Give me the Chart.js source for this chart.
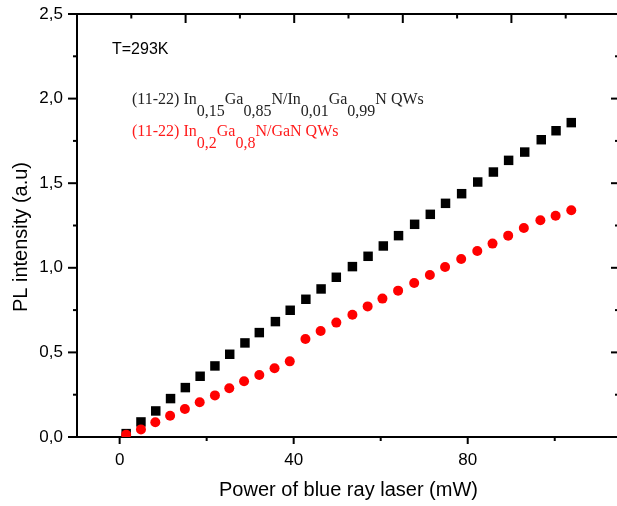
<!DOCTYPE html>
<html>
<head>
<meta charset="utf-8">
<script src="https://cdn.jsdelivr.net/npm/chart.js@4"></script>
<style>
  html, body { margin: 0; padding: 0; background: #fff; overflow: hidden; width: 617px; height: 506px; }
  #wrap { position: absolute; left: 0; top: 0; width: 621px; height: 506px; }
</style>
</head>
<body>
<div id="wrap"><canvas id="c" width="621" height="506"></canvas></div>
<script>
// ---- data ----
const powerBlack = [1.5, 4.9, 8.3, 11.7, 15.1, 18.5, 21.9, 25.3, 28.8, 32.1, 35.8, 39.2, 42.8, 46.3, 49.8, 53.5, 57.1, 60.6, 64.1, 67.8, 71.4, 74.9, 78.6, 82.3, 85.9, 89.4, 93.1, 96.9, 100.3, 103.8];
const intensityBlack = [0.02, 0.089, 0.154, 0.227, 0.292, 0.359, 0.42, 0.489, 0.556, 0.617, 0.682, 0.749, 0.814, 0.875, 0.944, 1.007, 1.068, 1.129, 1.19, 1.257, 1.316, 1.381, 1.438, 1.507, 1.566, 1.635, 1.684, 1.757, 1.81, 1.858];
const powerRed = [1.5, 4.9, 8.2, 11.6, 15.0, 18.4, 21.9, 25.2, 28.6, 32.1, 35.6, 39.1, 42.7, 46.2, 49.8, 53.5, 57.0, 60.4, 64.0, 67.7, 71.3, 74.8, 78.5, 82.2, 85.7, 89.3, 92.9, 96.7, 100.2, 103.8];
const intensityRed = [0.014, 0.045, 0.087, 0.126, 0.165, 0.205, 0.246, 0.288, 0.329, 0.366, 0.406, 0.447, 0.579, 0.626, 0.676, 0.723, 0.772, 0.818, 0.865, 0.910, 0.957, 1.005, 1.052, 1.099, 1.143, 1.190, 1.235, 1.281, 1.308, 1.340];

// ---- tick values ----
const xLabelTicks = [0, 40, 80];
const xMinorTicks = [20, 60, 100];
const yLabelTicks = [0, 0.5, 1.0, 1.5, 2.0, 2.5];
const yMinorTicks = [0.25, 0.75, 1.25, 1.75, 2.25];
const topMajorTicks = [1, 2, 3, 4];
const topMinorTicks = [0.5, 1.5, 2.5, 3.5, 4.5];

// ---- texts ----
const xTitle = 'Power of blue ray laser (mW)';
const yTitle = 'PL intensity (a.u)';
const tempLabel = 'T=293K';
const legendBlack = [['(11-22) In', 0], ['0,15', 1], ['Ga', 0], ['0,85', 1], ['N/In', 0], ['0,01', 1], ['Ga', 0], ['0,99', 1], ['N QWs', 0]];
const legendRed = [['(11-22) In', 0], ['0,2', 1], ['Ga', 0], ['0,8', 1], ['N/GaN QWs', 0]];

const toXY = (xs, ys) => xs.map((x, i) => ({ x: x, y: ys[i] }));

const SANS = '"Liberation Sans", Arial, sans-serif';
const SERIF = '"Liberation Serif", "Times New Roman", serif';

const noPad = sc => { sc.paddingLeft = 0; sc.paddingRight = 0; sc.paddingTop = 0; sc.paddingBottom = 0; };

const decorPlugin = {
  id: 'decor',
  afterDraw(chart) {
    const ctx = chart.ctx;
    const s = chart.scales;
    const ca = chart.chartArea;
    ctx.save();
    ctx.strokeStyle = '#000';
    ctx.lineWidth = 2;
    const line = (x1, y1, x2, y2) => { ctx.beginPath(); ctx.moveTo(x1, y1); ctx.lineTo(x2, y2); ctx.stroke(); };
    // bottom ticks (outward)
    xLabelTicks.forEach(v => { const p = s.x.getPixelForValue(v); line(p, ca.bottom, p, ca.bottom + 7); });
    xMinorTicks.forEach(v => { const p = s.x.getPixelForValue(v); line(p, ca.bottom, p, ca.bottom + 4); });
    // left ticks (outward)
    yLabelTicks.forEach(v => { const p = s.y.getPixelForValue(v); line(ca.left, p, ca.left - 9, p); });
    yMinorTicks.forEach(v => { const p = s.y.getPixelForValue(v); line(ca.left, p, ca.left - 4, p); });
    // top ticks (inward)
    topMajorTicks.forEach(v => { const p = s.xTop.getPixelForValue(v); line(p, ca.top, p, ca.top + 9); });
    topMinorTicks.forEach(v => { const p = s.xTop.getPixelForValue(v); line(p, ca.top, p, ca.top + 4.5); });
    // right ticks (inward)
    yLabelTicks.forEach(v => { const p = s.yRight.getPixelForValue(v); line(ca.right, p, ca.right - 9, p); });
    yMinorTicks.forEach(v => { const p = s.yRight.getPixelForValue(v); line(ca.right, p, ca.right - 5, p); });

    // y title
    ctx.save();
    ctx.translate(26.5, 237);
    ctx.rotate(-Math.PI / 2);
    ctx.font = '20px ' + SANS;
    ctx.fillStyle = '#000';
    ctx.textAlign = 'center';
    ctx.textBaseline = 'alphabetic';
    ctx.fillText(yTitle, 0, 0);
    ctx.restore();

    // temperature label
    ctx.font = '16px ' + SANS;
    ctx.fillStyle = '#000';
    ctx.textAlign = 'left';
    ctx.textBaseline = 'alphabetic';
    ctx.fillText(tempLabel, 112, 54);

    // legend texts with subscripts
    const drawRich = (segs, x, y, color) => {
      ctx.fillStyle = color;
      segs.forEach(([t, sub]) => {
        ctx.font = '16px ' + SERIF;
        ctx.fillText(t, x, sub ? y + 12 : y);
        x += ctx.measureText(t).width;
      });
    };
    drawRich(legendBlack, 132, 104, '#222');
    drawRich(legendRed, 132, 136, '#ff1a1a');
    ctx.restore();
  }
};

new Chart(document.getElementById('c'), {
  type: 'scatter',
  data: {
    datasets: [
      {
        label: 'In0,15Ga0,85N/In0,01Ga0,99N',
        data: toXY(powerBlack, intensityBlack),
        pointStyle: 'rect',
        pointRadius: 6.7,
        pointHoverRadius: 6.7,
        pointBorderWidth: 0,
        backgroundColor: '#000',
        borderColor: '#000',
        order: 1
      },
      {
        label: 'In0,2Ga0,8N/GaN',
        data: toXY(powerRed, intensityRed),
        pointStyle: 'circle',
        pointRadius: 5,
        pointHoverRadius: 5,
        pointBorderWidth: 0,
        backgroundColor: '#ff0000',
        borderColor: '#ff0000',
        order: 0
      }
    ]
  },
  options: {
    responsive: false,
    animation: false,
    devicePixelRatio: 1,
    layout: { autoPadding: false, padding: { top: 14, right: 1, bottom: 0, left: 0 } },
    plugins: { legend: { display: false }, tooltip: { enabled: false } },
    scales: {
      x: {
        type: 'linear',
        position: 'bottom',
        min: -9.8,
        max: 115,
        afterBuildTicks: sc => { sc.ticks = xLabelTicks.map(v => ({ value: v })); },
        afterFit: sc => { sc.height = 69; noPad(sc); },
        ticks: { font: { family: SANS, size: 17 }, color: '#000', padding: 13, maxRotation: 0, autoSkip: false,
                 callback: v => String(v) },
        grid: { display: false, drawTicks: false },
        border: { display: true, color: '#000', width: 2 },
        title: { display: true, text: xTitle, font: { family: SANS, size: 20 }, color: '#000', padding: { top: 0, bottom: 4 } }
      },
      xTop: {
        type: 'linear',
        position: 'top',
        min: 0,
        max: 5,
        afterFit: sc => { sc.height = 0; noPad(sc); },
        ticks: { display: false },
        grid: { display: false, drawTicks: false },
        border: { display: true, color: '#000', width: 2 }
      },
      y: {
        type: 'linear',
        position: 'left',
        min: 0,
        max: 2.5,
        afterBuildTicks: sc => { sc.ticks = yLabelTicks.map(v => ({ value: v })); },
        afterFit: sc => { sc.width = 77; noPad(sc); },
        ticks: { font: { family: SANS, size: 17 }, color: '#000', padding: 14, autoSkip: false,
                 callback: v => Number(v).toFixed(1).replace('.', ',') },
        grid: { display: false, drawTicks: false },
        border: { display: true, color: '#000', width: 2 }
      },
      yRight: {
        type: 'linear',
        position: 'right',
        min: 0,
        max: 2.5,
        afterFit: sc => { sc.width = 0; noPad(sc); },
        ticks: { display: false },
        grid: { display: false, drawTicks: false },
        border: { display: true, color: '#000', width: 2 }
      }
    }
  },
  plugins: [decorPlugin]
});
</script>
</body>
</html>
